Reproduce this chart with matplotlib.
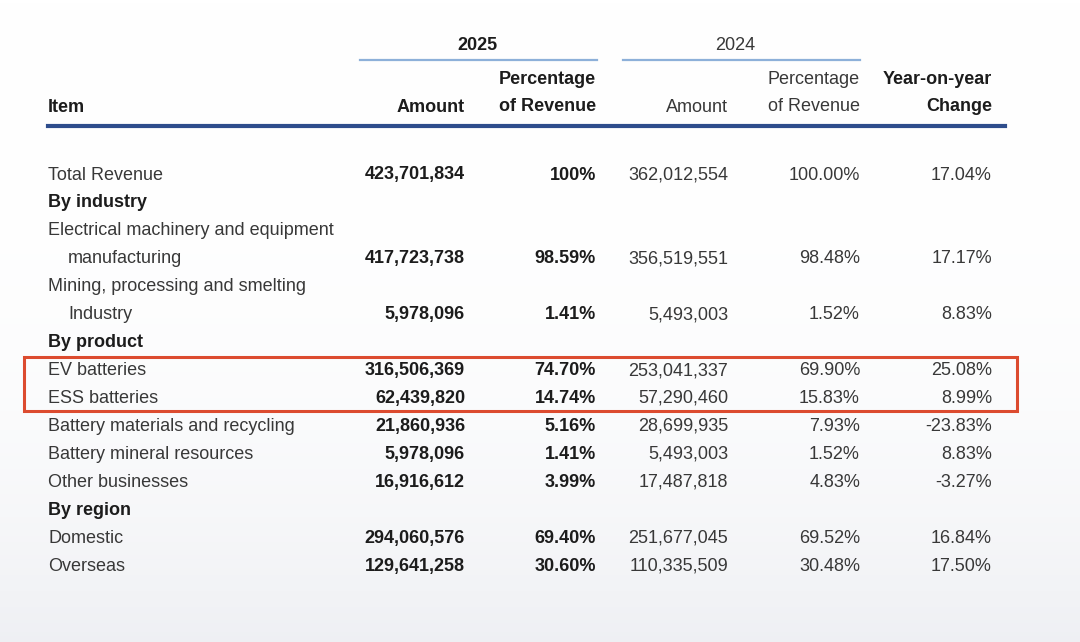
import numpy as np
import matplotlib
matplotlib.use("Agg")
import matplotlib.pyplot as plt
from matplotlib.patches import Rectangle

plt.rcParams['font.family'] = ['Liberation Sans', 'DejaVu Sans']

# table data
items = ["Total Revenue",
         "Electrical machinery and equipment\nmanufacturing",
         "Mining, processing and smelting\nIndustry",
         "EV batteries",
         "ESS batteries",
         "Battery materials and recycling",
         "Battery mineral resources",
         "Other businesses",
         "Domestic",
         "Overseas"]
amount_2025 = [423701834, 417723738, 5978096, 316506369, 62439820,
               21860936, 5978096, 16916612, 294060576, 129641258]
pct_2025 = [100, 98.59, 1.41, 74.70, 14.74, 5.16, 1.41, 3.99, 69.40, 30.60]
amount_2024 = [362012554, 356519551, 5493003, 253041337, 57290460,
               28699935, 5493003, 17487818, 251677045, 110335509]
pct_2024 = [100.00, 98.48, 1.52, 69.90, 15.83, 7.93, 1.52, 4.83, 69.52, 30.48]
yoy = [17.04, 17.17, 8.83, 25.08, 8.99, -23.83, 8.83, -3.27, 16.84, 17.50]
# group heading placed before the item with this index
groups = {1: "By industry", 3: "By product", 8: "By region"}
highlight = [3, 4]

fig = plt.figure(figsize=(10.8, 6.42), dpi=100)
ax = fig.add_axes([0, 0, 1, 1])
ax.set_xlim(0, 1080)
ax.set_ylim(642, 0)
ax.axis('off')

# faint screen-capture shading at the bottom
grad = np.linspace(0, 1, 200) ** 3
bg = np.ones((200, 2, 3))
bg[:, :, :] = (1 - grad[:, None, None] * np.array([0.065, 0.06, 0.045]))
ax.imshow(bg, extent=[0, 1080, 642, 0], aspect='auto', zorder=0)

dark = '#1c1c1c'
grey = '#383838'
fs = 13

# column right edges
col_x = [465, 596, 728, 860, 992]
left = 48

# headers
ax.text(477, 45, "2025", ha='center', va='center', fontsize=fs, fontweight='bold', color=dark)
ax.text(735, 45, "2024", ha='center', va='center', fontsize=fs, color=grey)
ax.plot([360, 597], [60, 60], color='#8db0d9', lw=1.6)
ax.plot([623, 860], [60, 60], color='#8db0d9', lw=1.6)
ax.text(left, 107, "Item", ha='left', va='center', fontsize=fs, fontweight='bold', color=dark)
ax.text(col_x[0], 107, "Amount", ha='right', va='center', fontsize=fs, fontweight='bold', color=dark)
ax.text(col_x[1], 93, "Percentage\nof Revenue", ha='right', va='center', fontsize=fs,
        fontweight='bold', color=dark, linespacing=1.75)
ax.text(col_x[2], 107, "Amount", ha='right', va='center', fontsize=fs, color=grey)
ax.text(col_x[3], 93, "Percentage\nof Revenue", ha='right', va='center', fontsize=fs,
        color=grey, linespacing=1.75)
ax.text(col_x[4], 93, "Year-on-year\nChange", ha='right', va='center', fontsize=fs,
        fontweight='bold', color=dark, linespacing=1.75)
ax.plot([48, 1005], [126, 126], color='#2e4d8c', lw=3)

row_h = 27.93
y = 175
row_y = {}
for i, name in enumerate(items):
    if i in groups:
        ax.text(left, y, groups[i], ha='left', va='center', fontsize=fs,
                fontweight='bold', color=dark)
        y += row_h
    lines = name.split("\n")
    for j, ln in enumerate(lines):
        ax.text(left + (20 if j > 0 else 0), y, ln, ha='left', va='center',
                fontsize=fs, color=grey)
        if j < len(lines) - 1:
            y += row_h
    row_y[i] = y
    ax.text(col_x[0], y, f"{amount_2025[i]:,}", ha='right', va='center',
            fontsize=fs, fontweight='bold', color=dark)
    p = pct_2025[i]
    ptxt = "%d%%" % p if p == 100 else f"{p:.2f}%"
    ax.text(col_x[1], y, ptxt, ha='right', va='center', fontsize=fs,
            fontweight='bold', color=dark)
    ax.text(col_x[2], y, f"{amount_2024[i]:,}", ha='right', va='center',
            fontsize=fs, color=grey)
    ax.text(col_x[3], y, f"{pct_2024[i]:.2f}%", ha='right', va='center',
            fontsize=fs, color=grey)
    ax.text(col_x[4], y, f"{yoy[i]:.2f}%", ha='right', va='center',
            fontsize=fs, color=grey)
    y += row_h

# red highlight box around the battery rows
y0 = row_y[highlight[0]] - 14
y1 = row_y[highlight[-1]] + 13
ax.add_patch(Rectangle((24, y0), 1017 - 24, y1 - y0, fill=False,
                       edgecolor='#dc4b2f', lw=2.2, zorder=5))

fig.savefig("out.png", dpi=100)
